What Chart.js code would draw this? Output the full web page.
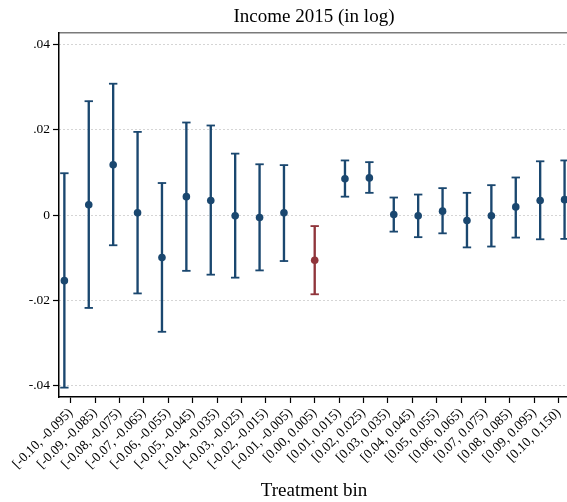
<!DOCTYPE html>
<html>
<head>
<meta charset="utf-8">
<script src="https://cdn.jsdelivr.net/npm/chart.js@4.4.1/dist/chart.umd.min.js"></script>
<style>
  html, body { margin: 0; padding: 0; background: #fff; overflow: hidden; }
  #wrap { width: 567px; height: 502px; overflow: hidden; }
</style>
</head>
<body>
<div id="wrap"><canvas id="myChart" width="575" height="502"></canvas></div>
<script>
// bins of the treatment variable
const binLabels = [
    '[-0.10, -0.095)', '[-0.09, -0.085)', '[-0.08, -0.075)', '[-0.07, -0.065)',
    '[-0.06, -0.055)', '[-0.05, -0.045)', '[-0.04, -0.035)', '[-0.03, -0.025)',
    '[-0.02, -0.015)', '[-0.01, -0.005)', '[0.00, 0.005)', '[0.01, 0.015)',
    '[0.02, 0.025)', '[0.03, 0.035)', '[0.04, 0.045)', '[0.05, 0.055)',
    '[0.06, 0.065)', '[0.07, 0.075)', '[0.08, 0.085)', '[0.09, 0.095)', '[0.10, 0.150)'
];
const coef = [
    -0.0154, 0.0024, 0.0118, 0.0005, -0.0100, 0.0043, 0.0034, -0.0002, -0.0006, 0.0005,
    -0.0106,
    0.0085, 0.0087, 0.0001, -0.0002, 0.0009, -0.0013, -0.0002, 0.0019, 0.0034, 0.0036
];
const upper = [
    0.0098, 0.0267, 0.0308, 0.0195, 0.0075, 0.0217, 0.0210, 0.0144, 0.0119, 0.0117,
    -0.0026,
    0.0128, 0.0124, 0.0041, 0.0048, 0.0063, 0.0052, 0.0070, 0.0088, 0.0126, 0.0128
];
const lower = [
    -0.0405, -0.0218, -0.0071, -0.0184, -0.0274, -0.0131, -0.0140, -0.0147, -0.0130, -0.0108,
    -0.0186,
    0.0043, 0.0052, -0.0039, -0.0052, -0.0043, -0.0076, -0.0074, -0.0053, -0.0057, -0.0056
];
const yTicks = [-0.04, -0.02, 0, 0.02, 0.04];
const treatedBin = 10;

const navy = '#1a476f';
const maroon = '#90353b';
const serif = "'Liberation Serif', 'DejaVu Serif', serif";

// points left of the treated bin sit a bit left of their tick, right ones a bit right
const xPos = binLabels.map((_, i) => i < treatedBin ? i - 0.26 : (i > treatedBin ? i + 0.24 : i));

const colorOf = (ctx) => ctx.dataIndex === treatedBin ? maroon : navy;

const canvas = /** @type {HTMLCanvasElement} */ (document.getElementById('myChart'));
new Chart(canvas.getContext('2d'), {
    type: 'bar',
    data: {
        datasets: [
            {
                type: 'scatter',
                data: xPos.map((x, i) => ({ x, y: coef[i] })),
                pointRadius: 3.8,
                pointBackgroundColor: colorOf,
                pointBorderColor: colorOf,
                pointBorderWidth: 0,
                clip: false
            },
            {
                type: 'scatter',
                data: xPos.map((x, i) => ({ x, y: upper[i] })),
                pointStyle: 'line',
                pointRadius: 4.2,
                pointBorderWidth: 1.8,
                pointBorderColor: colorOf,
                clip: false
            },
            {
                type: 'scatter',
                data: xPos.map((x, i) => ({ x, y: lower[i] })),
                pointStyle: 'line',
                pointRadius: 4.2,
                pointBorderWidth: 1.8,
                pointBorderColor: colorOf,
                clip: false
            },
            {
                type: 'bar',
                data: xPos.map((x, i) => ({ x, y: [lower[i], upper[i]] })),
                barThickness: 1.7,
                backgroundColor: colorOf,
                grouped: false,
                clip: false
            }
        ]
    },
    options: {
        responsive: false,
        animation: false,
        layout: { padding: 0 },
        plugins: {
            legend: { display: false },
            tooltip: { enabled: false },
            title: { display: false }
        },
        scales: {
            x: {
                type: 'linear',
                position: 'bottom',
                bounds: 'data',
                offset: false,
                // one tick per bin, 24.4 px apart, first tick 11.7 px right of the y axis
                afterBuildTicks: (scale) => {
                    scale.ticks = binLabels.map((_, i) => ({ value: i }));
                    scale.min = -0.48;
                    scale.max = -0.48 + scale.width / 24.4;
                },
                afterFit: (scale) => { scale.height = 105; },
                ticks: {
                    autoSkip: false,
                    minRotation: 45,
                    maxRotation: 45,
                    color: '#000',
                    padding: 2,
                    font: { family: serif, size: 13.5 },
                    callback: (value, index) => binLabels[index]
                },
                grid: { offset: false, drawOnChartArea: false, drawTicks: true, tickLength: 6, tickColor: '#000', tickWidth: 1.2 },
                border: { color: '#000', width: 1.5 },
                title: {
                    display: true,
                    text: 'Treatment bin',
                    color: '#000',
                    font: { family: serif, size: 19 },
                    padding: { top: 0, bottom: 0 }
                }
            },
            top: {
                type: 'linear',
                position: 'top',
                min: 0,
                max: 1,
                offset: false,
                afterFit: (scale) => { scale.height = 33; },
                ticks: { display: false },
                grid: { offset: false, drawOnChartArea: false, drawTicks: false },
                border: { color: '#7a7a7a', width: 1.5 },
                title: {
                    display: true,
                    text: 'Income 2015 (in log)',
                    color: '#000',
                    font: { family: serif, size: 19 },
                    padding: { top: 6, bottom: 4 }
                }
            },
            y: {
                min: -0.0427,
                max: 0.0427,
                afterBuildTicks: (scale) => {
                    scale.ticks = yTicks.map(v => ({ value: v }));
                },
                afterFit: (scale) => { scale.width = 59; },
                ticks: {
                    color: '#000',
                    padding: 3,
                    font: { family: serif, size: 13.5 },
                    callback: (v) => v === 0 ? '0' : (v < 0 ? '-' : '') + Math.abs(v).toFixed(2).replace(/^0/, '')
                },
                grid: { color: '#aaaaaa', lineWidth: 1, tickLength: 6, tickColor: '#000', tickWidth: 1.2 },
                border: { color: '#000', width: 1.5, dash: [1, 3] }
            }
        }
    }
});
</script>
</body>
</html>
